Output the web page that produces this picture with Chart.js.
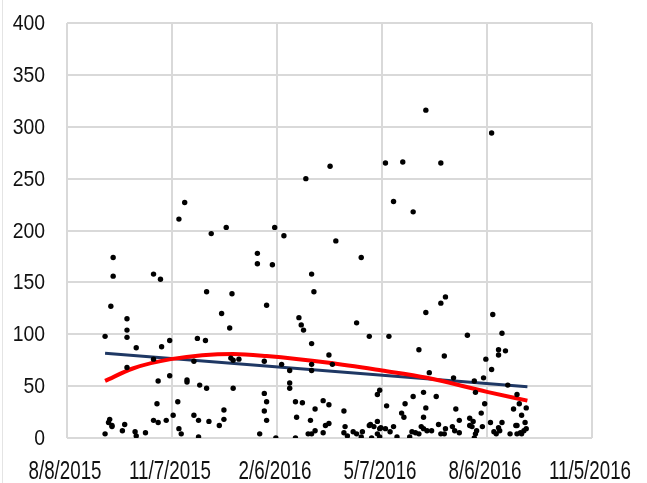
<!DOCTYPE html>
<html>
<head>
<meta charset="utf-8">
<script src="https://cdn.jsdelivr.net/npm/chart.js@4.4.1/dist/chart.umd.min.js"></script>
<style>
  html, body { margin: 0; padding: 0; background: #fff; }
  .wrap { position: relative; width: 647px; height: 483px; }
  .edge { position: absolute; left: 2px; top: 0; width: 1px; height: 483px; background: #e4e4e4; }
</style>
</head>
<body>
<div class="wrap">
  <div class="edge"></div>
  <canvas id="scatterChart" width="647" height="483"></canvas>
</div>
<script>
const scatterChart = document.getElementById('scatterChart');

// dias desde 8/8/2015
const tickLabels = ['8/8/2015', '11/7/2015', '2/6/2016', '5/7/2016', '8/6/2016', '11/5/2016'];

const pointDays = [
  33, 40, 40, 38, 33, 37, 39, 36, 39, 48, 50, 52, 52, 52, 52, 59, 60, 60, 68, 75,
  81, 82, 75, 79, 78, 75, 79, 86, 89, 89, 92, 96, 97, 99, 104, 104, 110, 114, 114, 113,
  120, 115, 121, 110, 97, 102, 125, 138,
  121, 123, 132, 134, 136, 136, 141, 143, 142, 144, 149, 144, 165, 165, 178, 173, 171, 167, 171, 173,
  171, 173, 181, 180, 188, 186, 193, 193, 193, 198, 199, 198, 204, 201, 203, 205, 212, 214, 212, 212,
  212, 211, 215, 209, 212, 215, 207, 222, 222, 224, 227, 227, 227, 228,
  230, 233, 255, 251, 262, 279, 276, 291, 283, 300, 305, 240, 269, 271, 277, 290, 292, 293, 300, 309,
  241, 240, 243, 248, 251, 255, 256, 263, 266, 264, 269, 269, 271, 272, 276, 271, 280, 283, 286, 297,
  299, 302, 305, 307, 309, 309, 311, 262,
  311, 368, 324, 311, 324, 328, 369, 327, 347, 377, 374, 374, 380, 363, 368, 361, 314, 335, 353, 382,
  320, 337, 340, 349, 352, 354, 362, 359, 367, 377, 390, 392, 387, 398, 394, 397, 390, 312, 316, 322,
  324, 327, 328, 334, 336, 340, 349, 354, 353, 355, 360, 370, 372, 375, 384, 390, 393, 396, 398, 394,
  351, 374, 389
];

const pointValues = [
  98, 174, 156, 127, 4, 18, 12, 15, 11, 7, 13, 115, 104, 97, 68, 6, 2, 87, 5, 158,
  153, 88, 76, 55, 33, 17, 15, 17, 94, 60, 22, 35, 9, 4, 56, 54, 22, 17, 1, 96,
  94, 51, 48, 74, 211, 227, 197, 203,
  141, 16, 12, 120, 27, 18, 106, 139, 77, 75, 76, 48, 178, 168, 167, 128, 74, 4, 43, 35,
  26, 17, 0, 203, 195, 71, 65, 53, 48, 35, 20, 0, 34, 116, 109, 104, 158, 141, 91, 71,
  65, 17, 28, 4, 4, 7, 250, 5, 36, 12, 14, 32, 80, 262,
  71, 190, 174, 111, 98, 98, 265, 266, 228, 218, 85, 26, 42, 46, 31, 24, 20, 33, 40, 44,
  11, 5, 2, 6, 4, 1, 6, 13, 11, 0, 16, 4, 9, 10, 9, 1, 6, 11, 1, 1,
  6, 5, 4, 11, 9, 20, 29, 12,
  316, 294, 265, 121, 130, 136, 119, 79, 99, 101, 85, 80, 84, 76, 66, 58, 63, 58, 55, 51,
  40, 28, 17, 19, 16, 44, 33, 24, 15, 15, 42, 33, 28, 29, 22, 15, 12, 7, 7, 13,
  4, 4, 9, 11, 7, 5, 12, 4, 0, 7, 11, 6, 4, 7, 4, 4, 5, 7, 9, 4,
  11, 10, 12
];

// linha de tendencia polinomial (vermelha) e linear (azul)
const polyDays = [33, 57, 90, 144, 173, 227, 273, 312, 364, 399];
const polyValues = [55, 67, 76, 81, 79, 72.5, 65, 58, 44.5, 36];
const linearDays = [33, 399];
const linearValues = [81.6, 49.3];

const yTicks = { min: 0, max: 400, step: 50 };
const xTicks = { min: 0, max: 455, step: 91 };

function toPoints(xs, ys) {
  return xs.map((x, i) => ({ x: x, y: ys[i] }));
}

const fontFamily = "'Liberation Sans', Arial, sans-serif";

// rotulos estreitos (tipo Arial Narrow) desenhados a partir dos ticks das escalas
const narrowLabels = {
  id: 'narrowLabels',
  afterDraw(chart) {
    const ctx = chart.ctx;
    const xScale = chart.scales.x;
    const yScale = chart.scales.y;

    ctx.save();
    ctx.fillStyle = '#111111';

    ctx.font = '22px ' + fontFamily;
    ctx.textAlign = 'right';
    ctx.textBaseline = 'middle';
    yScale.ticks.forEach(tick => {
      const py = yScale.getPixelForValue(tick.value);
      ctx.save();
      ctx.translate(45, py + 1);
      ctx.scale(0.88, 1);
      ctx.fillText(String(tick.value), 0, 0);
      ctx.restore();
    });

    ctx.font = '25px ' + fontFamily;
    ctx.textAlign = 'center';
    ctx.textBaseline = 'alphabetic';
    xScale.ticks.forEach((tick, i) => {
      const px = xScale.getPixelForValue(tick.value);
      ctx.save();
      ctx.translate(px - 2, 479);
      ctx.scale(0.75, 1);
      ctx.fillText(tickLabels[i], 0, 0);
      ctx.restore();
    });

    ctx.restore();
  }
};

function handleScatterChart() {
  new Chart(scatterChart, {
    type: 'scatter',
    data: {
      datasets: [
        {
          label: 'Pontos',
          data: toPoints(pointDays, pointValues),
          backgroundColor: '#000000',
          borderColor: '#000000',
          pointRadius: 2.7,
          pointHoverRadius: 2.7,
          borderWidth: 0
        },
        {
          label: 'Polinomial',
          data: toPoints(polyDays, polyValues),
          showLine: true,
          borderColor: '#ff0000',
          borderWidth: 4,
          pointRadius: 0,
          cubicInterpolationMode: 'monotone'
        },
        {
          label: 'Linear',
          data: toPoints(linearDays, linearValues),
          showLine: true,
          borderColor: '#1f3864',
          borderWidth: 3,
          pointRadius: 0
        }
      ]
    },
    options: {
      responsive: false,
      animation: false,
      layout: { padding: { top: 23, right: 55, left: 0, bottom: 0 } },
      plugins: {
        legend: { display: false },
        tooltip: { enabled: false }
      },
      scales: {
        x: {
          type: 'linear',
          min: xTicks.min,
          max: xTicks.max,
          afterFit: (axis) => { axis.height = 45; },
          border: { display: false },
          grid: { color: '#d9d9d9', lineWidth: 2, drawTicks: false },
          ticks: { stepSize: xTicks.step, autoSkip: false, display: false }
        },
        y: {
          min: yTicks.min,
          max: yTicks.max,
          afterFit: (axis) => { axis.width = 67; },
          border: { display: false },
          grid: { color: '#d9d9d9', lineWidth: 2, drawTicks: false },
          ticks: { stepSize: yTicks.step, display: false }
        }
      }
    },
    plugins: [narrowLabels]
  });
}

handleScatterChart();
</script>
</body>
</html>
